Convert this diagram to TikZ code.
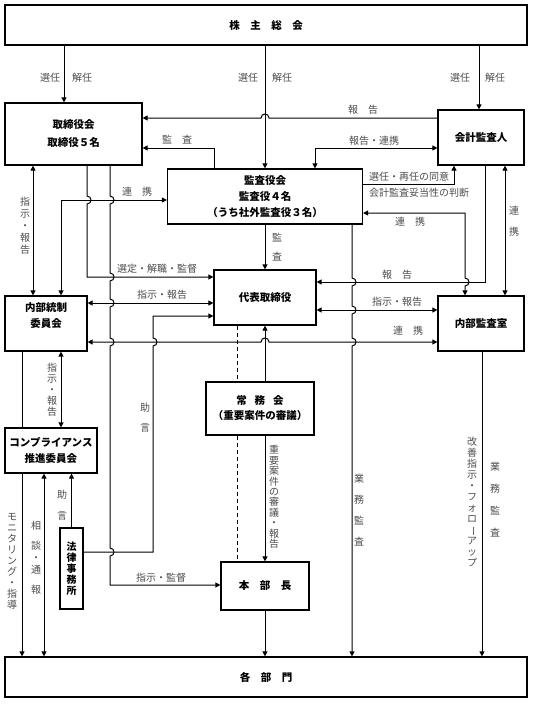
\documentclass[tikz,border=0pt]{standalone}
\usepackage{fontspec}
\newfontfamily\jp{Noto Sans CJK JP}
\usetikzlibrary{%
  arrows.meta,
}

% a vertical line (drawn downwards) hops over a crossing line at (#1,#2)
\newcommand{\vhop}[2]{-- (#1,#2-4) .. controls (#1+5.3,#2-4) and (#1+5.3,#2+4) .. (#1,#2+4)}
% a horizontal line (drawn to the right) hops over a crossing line at (#1,#2)
\newcommand{\hhop}[2]{-- (#1-4,#2) .. controls (#1-4,#2-5.3) and (#1+4,#2-5.3) .. (#1+4,#2)}

\begin{document}
\begin{tikzpicture}[%
           x=1pt, y=-1pt,
           line width=1pt,
           >={Triangle[length=5pt, width=5pt]},
           organ/.style={
             % The shape:
             rectangle,
             % The border:
             draw,
             line width=1.2pt,
             % The text:
             font=\jp\bfseries\fontsize{10.5}{16}\selectfont,
             align=center,
             inner sep=0pt,
           },
           note/.style={
             font=\jp\fontsize{10}{12}\selectfont,
             text=black!70,
             inner sep=0pt,
           },
           tate/.style={
             % one character per line
             note,
             align=center,
             font=\jp\fontsize{10}{#1}\selectfont,
           },
           tate/.default=11,
           brokenline/.style={
             dash pattern=on 4pt off 3pt,
           },
         ]
         \useasboundingbox (0,0) rectangle (537,709);

         \node[organ, minimum width=522pt, minimum height=40pt] (soukai) at (266,25) {株　主　総　会};
         \node[organ, minimum width=137pt, minimum height=62pt] (torishimari) at (73.5,134) {取締役会\\[2pt]取締役５名};
         \node[organ, minimum width=86pt, minimum height=55pt] (kaikei) at (481,137.5) {会計監査人};
         \node[organ, minimum width=195pt, minimum height=55pt] (kansa) at (265,196.5) {監査役会\\監査役４名\\（うち社外監査役３名）};
         \node[organ, minimum width=102pt, minimum height=55pt] (daihyo) at (265,297.5) {代表取締役};
         \node[organ, minimum width=82pt, minimum height=55pt] (tousei) at (46,323.5) {内部統制\\委員会\\\mbox{}};
         \node[organ, minimum width=86pt, minimum height=55pt] (naibukansa) at (481,323.5) {内部監査室};
         \node[organ, minimum width=108pt, minimum height=53pt] (joumu) at (260,408.5) {常\hspace{8pt}務\hspace{8pt}会\\[-1pt]（重要案件の審議）};
         \node[organ, minimum width=92pt, minimum height=45pt] (compliance) at (51,450.5) {コンプライアンス\\推進委員会};
         \node[organ, minimum width=23pt, minimum height=81pt, font=\jp\bfseries\fontsize{10}{11}\selectfont] (houritsu) at (71.5,568.5) {法\\律\\事\\務\\所};
         \node[organ, minimum width=88pt, minimum height=48pt] (honbu) at (265,586) {本　部　長};
         \node[organ, minimum width=522pt, minimum height=40pt] (kakubumon) at (266,677) {各　部　門};

         % from the shareholders
         \draw[->] (64,0 |- soukai.south) -- (64,0 |- torishimari.north);
         \draw[->] (kansa.north |- soukai.south) -- (kansa.north);
         \draw[->] (479,0 |- soukai.south) -- (479,0 |- kaikei.north);
         \node[note] (sen1) at (50,78) {選任};
         \node[note] (kai1) at (82,78) {解任};
         \node[note] (sen2) at (248,78) {選任};
         \node[note] (kai2) at (282,78) {解任};
         \node[note] (sen3) at (460,78) {選任};
         \node[note] (kai3) at (495,78) {解任};

         % around the auditors
         \draw[<-] (torishimari.east |- 0,118) \hhop{265}{118} -- (kaikei.west |- 0,118);
         \node[note] (houkoku1) at (363,110) {報　告};
         \draw[->] (214,0 |- kansa.north) |- (torishimari.east |- 0,148);
         \node[note] (kansa1) at (177,140) {監　査};
         \draw[<->] (kaikei.west |- 0,148) -| (315,0 |- kansa.north);
         \node[note] (renkei1) at (374,141) {報告・連携};
         \draw[->] (kansa.east |- 0,184) -| (454,0 |- kaikei.south);
         \node[note] (doui) at (409,177) {選任・再任の同意};
         \node[note] (handan) at (419,193) {会計監査妥当性の判断};
         \draw[<->] (505,0 |- kaikei.south) -- (505,0 |- naibukansa.north);
         \node[tate=21] (renkei2) at (514,221) {連\\携};
         \draw[->] (485,0 |- kaikei.south) |- (daihyo.east |- 0,282);
         \node[note] (houkoku2) at (397,275) {報　告};
         \draw[<->] (kansa.east |- 0,213) -- (465,213) \vhop{465}{282} -- (465,0 |- naibukansa.north);
         \node[note] (renkei3) at (410,222) {連　携};
         \draw[->] (kansa.south) -- (daihyo.north);
         \node[tate=19] (kansa2) at (277,247) {監\\査};
         \draw[->] (352,0 |- kansa.south) \vhop{352}{282} \vhop{352}{310} \vhop{352}{342} -- (352,0 |- kakubumon.north);
         \node[tate=21] (gyoumu1) at (359,510) {業\\務\\監\\査};

         % internal audit office
         \draw[<->] (daihyo.east |- 0,310) -- (naibukansa.west |- 0,310);
         \node[note] (shiji1) at (397,302) {指示・報告};
         \draw[<->] (tousei.east |- 0,342) \hhop{265}{342} -- (naibukansa.west |- 0,342);
         \node[note] (renkei4) at (408,331) {連　携};
         \draw[->] (482,0 |- naibukansa.south) -- (482,0 |- kakubumon.north);
         \node[tate=11] (kaizen) at (472,502) {改\\善\\指\\示\\・\\フ\\ォ\\ロ\\\rotatebox[origin=c]{-90}{ー}\\ア\\ッ\\プ};
         \node[tate=22] (gyoumu2) at (495,500) {業\\務\\監\\査};

         % board of directors
         \draw[<->] (33,0 |- torishimari.south) -- (33,0 |- tousei.north);
         \node[tate=12] (shiji2) at (25,226) {指\\示\\・\\報\\告};
         \draw[<->] (kansa.west |- 0,200) -| (61,0 |- tousei.north);
         \node[note] (renkei5) at (137,192) {連　携};
         \draw[->] (87,0 |- torishimari.south) \vhop{87}{200} |- (daihyo.west |- 0,277);
         \node[note] (sentei) at (157,269) {選定・解職・監督};
         \draw[<->] (tousei.east |- 0,303) -- (daihyo.west |- 0,303);
         \node[note] (shiji3) at (162,295) {指示・報告};
         \draw[->] (110,0 |- torishimari.south) \vhop{110}{200} \vhop{110}{277} \vhop{110}{303} \vhop{110}{342} \vhop{110}{552} |- (honbu.west |- 0,585);
         \node[note] (kantoku) at (161,578) {指示・監督};

         % president and executive meeting
         \draw[->] (daihyo.south |- joumu.north) -- (daihyo.south);
         \draw[brokenline] (237,0 |- daihyo.south) -- (237,0 |- joumu.north);
         \draw[brokenline] (237,0 |- joumu.south) -- (237,0 |- honbu.north);
         \draw[->] (honbu.north |- joumu.south) -- (honbu.north);
         \node[tate=10.4] (juuyou) at (274,497) {重\\要\\案\\件\\の\\審\\議\\・\\報\\告};
         \draw[->] (honbu.south) -- (honbu.south |- kakubumon.north);

         % law office and compliance
         \draw[<-] (daihyo.west |- 0,316) -- (153,316) \vhop{153}{342} |- (houritsu.east |- 0,552);
         \node[tate=20] (jogen1) at (145,418) {助\\言};
         \draw[->] (houritsu.north) -- (houritsu.north |- compliance.south);
         \node[tate=21] (jogen2) at (62,505) {助\\言};
         \draw[<->] (61,0 |- tousei.south) -- (61,0 |- compliance.north);
         \node[tate=11] (shiji4) at (52,390) {指\\示\\・\\報\\告};
         \draw (22,0 |- tousei.south) -- (22,0 |- compliance.north);
         \draw[->] (22,0 |- compliance.south) -- (22,0 |- kakubumon.north);
         \node[tate=11] (monitor) at (12,561) {モ\\ニ\\タ\\リ\\ン\\グ\\・\\指\\導};
         \draw[<->] (44,0 |- compliance.south) -- (44,0 |- kakubumon.north);
         \node[tate=12] (soudan) at (36,558) {相\\[8pt]談\\・\\通\\[8pt]報};
       \end{tikzpicture}
\end{document}
